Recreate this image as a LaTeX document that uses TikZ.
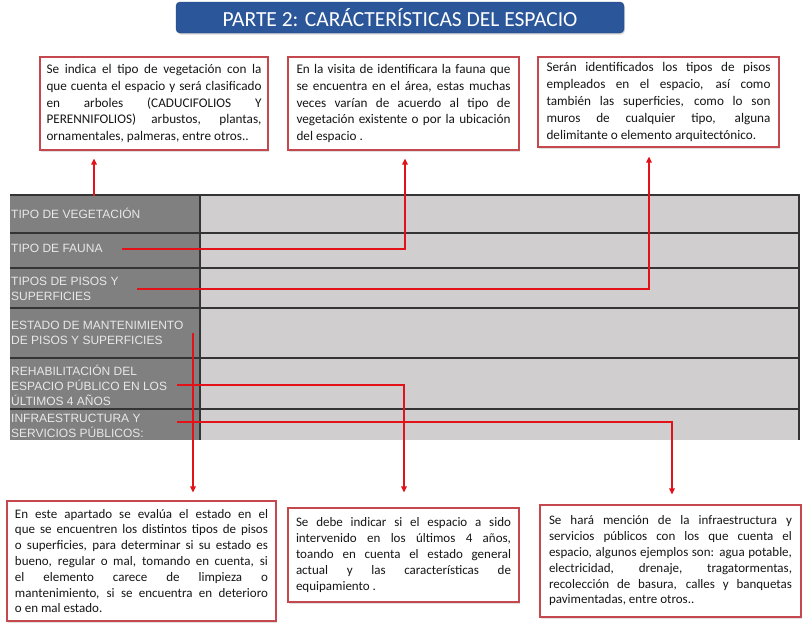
\documentclass[tikz,border=0pt]{standalone}
\usepackage{fontspec}
\setmainfont{Carlito}
\newfontfamily\tablefont{Liberation Sans}
\usetikzlibrary{arrows.meta,shadows}
\definecolor{titleblue}{RGB}{43,86,154}
\definecolor{boxred}{RGB}{196,72,78}
\definecolor{linered}{RGB}{226,18,24}
\definecolor{textgray}{RGB}{22,22,22}
\definecolor{darkcol}{RGB}{128,128,128}
\definecolor{lightcol}{RGB}{208,206,207}
\definecolor{rulegray}{RGB}{52,52,52}
\definecolor{labelgray}{RGB}{232,232,232}

\begin{document}
\begin{tikzpicture}[x=1pt,y=-1pt,>={Triangle[length=6pt,width=5.5pt]},
	infobox/.style={draw=boxred,line width=1.2pt,fill=white,align=justify,text=textgray,inner sep=0pt,
		drop shadow={opacity=0.25,shadow xshift=1pt,shadow yshift=-1.5pt}},
	topfont/.style={font=\fontsize{13.2}{16.8}\selectfont},
	bottomfont/.style={font=\fontsize{13}{15.8}\selectfont},
	rowlabel/.style={anchor=west,align=left,inner sep=0pt,text=labelgray,font=\tablefont\fontsize{12}{15}\selectfont},
	rowline/.style={draw=rulegray,line width=1.5pt},
	conn/.style={draw=linered,line width=2pt}]
	\useasboundingbox[fill=white] (0,0) rectangle (804,622);

	%title
	\node[fill=titleblue,draw=titleblue!80!black,rounded corners=4pt,minimum width=448pt,minimum height=31pt,
		text=white,font=\fontsize{21.5}{24}\selectfont,drop shadow={opacity=0.3,shadow xshift=1pt,shadow yshift=-1.5pt}]
		(title) at (400,17.5) {PARTE 2: CARÁCTERÍSTICAS DEL ESPACIO};

	%table
	\fill[darkcol] (10,195) rectangle (200,440); %label column
	\fill[lightcol] (200,195) rectangle (800,440); %answer column
	\draw[rowline,line width=2.5pt] (10,195) -- (800,195); %top rule
	\draw[rowline] (10,233) -- (800,233);
	\draw[rowline] (10,268) -- (800,268);
	\draw[rowline] (10,308) -- (800,308);
	\draw[rowline] (10,358) -- (800,358);
	\draw[rowline] (10,409) -- (800,409);
	\draw[rowline,line width=1.2pt] (200,195) -- (200,440); %column split
	\draw[rowline,line width=1.2pt] (799,195) -- (799,440); %right border

	%row labels
	\node[rowlabel] (veg) at (11,213) {TIPO DE VEGETACIÓN};
	\node[rowlabel] (fauna) at (11,248) {TIPO DE FAUNA};
	\node[rowlabel] (pisos) at (11,288.5) {TIPOS DE PISOS Y\\SUPERFICIES};
	\node[rowlabel] (estado) at (11,332.5) {ESTADO DE MANTENIMIENTO\\DE PISOS Y SUPERFICIES};
	\node[rowlabel] (rehab) at (11,385) {REHABILITACIÓN DEL\\ESPACIO PÚBLICO EN LOS\\ÚLTIMOS 4 AÑOS};
	\node[rowlabel] (infra) at (11,425.5) {INFRAESTRUCTURA Y\\SERVICIOS PÚBLICOS:};

	%top boxes
	\node[infobox,topfont,text width=215pt,minimum width=228pt,minimum height=93pt] (vegbox) at (154,103.5)
		{Se indica el tipo de vegetación con la\linebreak que cuenta el espacio y será clasificado\linebreak en arboles (CADUCIFOLIOS Y\linebreak PERENNIFOLIOS) arbustos, plantas,\linebreak ornamentales, palmeras, entre otros..};
	\node[infobox,topfont,text width=214pt,minimum width=231pt,minimum height=93pt] (faunabox) at (403.5,103.5)
		{En la visita de identificara la fauna que\linebreak se encuentra en el área, estas muchas\linebreak veces varían de acuerdo al tipo de\linebreak vegetación existente o por la ubicación\linebreak del espacio .};
	\node[infobox,topfont,text width=224pt,minimum width=241pt,minimum height=90pt] (pisobox) at (658.5,102)
		{Serán identificados los tipos de pisos\linebreak empleados en el espacio, así como\linebreak también las superficies, como lo son\linebreak muros de cualquier tipo, alguna\linebreak delimitante o elemento arquitectónico.};

	%bottom boxes
	\node[infobox,bottomfont,text width=253pt,minimum width=269pt,minimum height=120pt] (estadobox) at (141.5,561)
		{En este apartado se evalúa el estado en el\linebreak que se encuentren los distintos tipos de pisos\linebreak o superficies, para determinar si su estado es\linebreak bueno, regular o mal, tomando en cuenta, si\linebreak el elemento carece de limpieza o\linebreak mantenimiento, si se encuentra en deterioro\linebreak o en mal estado.};
	\node[infobox,bottomfont,text width=215pt,minimum width=231pt,minimum height=94pt] (rehabbox) at (403.5,555)
		{Se debe indicar si el espacio a sido\linebreak intervenido en los últimos 4 años,\linebreak toando en cuenta el estado general\linebreak actual y las características de\linebreak equipamiento .};
	\node[infobox,bottomfont,text width=243pt,minimum width=261pt,minimum height=112pt] (infrabox) at (670.5,561)
		{Se hará mención de la infraestructura y\linebreak servicios públicos con los que cuenta el\linebreak espacio, algunos ejemplos son: agua potable,\linebreak electricidad, drenaje, tragatormentas,\linebreak recolección de basura, calles y banquetas\linebreak pavimentadas, entre otros..};

	%connector ends
	\coordinate (vegstart) at (94,196);
	\coordinate (faunastart) at (122,249);
	\coordinate (faunaturn) at (405,249);
	\coordinate (pisostart) at (137,289);
	\coordinate (pisoturn) at (649,289);
	\coordinate (estadostart) at (193,333);
	\coordinate (rehabstart) at (177,385);
	\coordinate (rehabturn) at (404,385);
	\coordinate (infrastart) at (177,422);
	\coordinate (infraturn) at (672,422);

	%arrows up
	\draw[conn,->,shorten >=8pt] (vegstart) -- (vegstart |- vegbox.south); %vegetation
	\draw[conn,->,shorten >=8pt] (faunastart) -- (faunaturn) -- (faunaturn |- faunabox.south); %fauna
	\draw[conn,->,shorten >=9pt] (pisostart) -- (pisoturn) -- (pisoturn |- pisobox.south); %floors

	%arrows down
	\draw[conn,->,shorten >=8pt] (estadostart) -- (estadostart |- estadobox.north); %maintenance
	\draw[conn,->,shorten >=15pt] (rehabstart) -- (rehabturn) -- (rehabturn |- rehabbox.north); %rehabilitation
	\draw[conn,->,shorten >=10pt] (infrastart) -- (infraturn) -- (infraturn |- infrabox.north); %infrastructure
\end{tikzpicture}
\end{document}
